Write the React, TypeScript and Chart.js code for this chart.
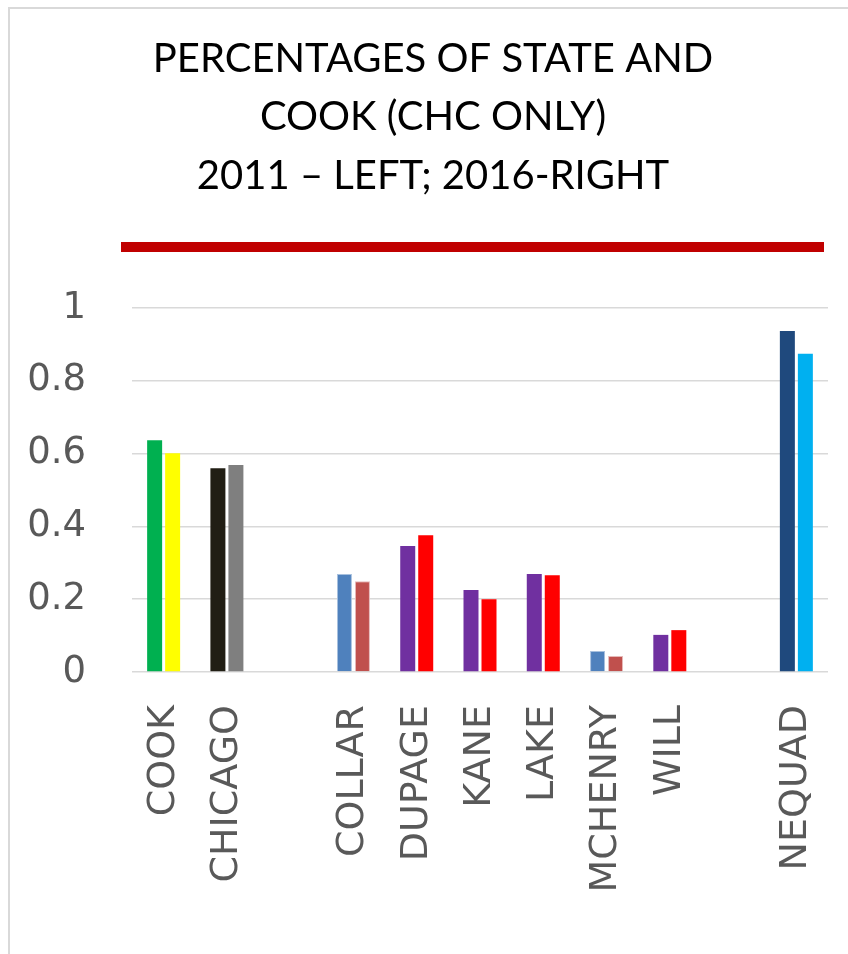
import React, { useEffect, useRef } from 'react';
import { Chart, registerables } from 'chart.js';

Chart.register(...registerables);

const TITLE_LINES = ['PERCENTAGES OF STATE AND', 'COOK (CHC ONLY)', '2011 – LEFT; 2016-RIGHT'];
const CATEGORIES = ['COOK', 'CHICAGO', '', 'COLLAR', 'DUPAGE', 'KANE', 'LAKE', 'MCHENRY', 'WILL', '', 'NEQUAD'];
const VALUES_2011 = [0.637, 0.56, null, 0.269, 0.346, 0.225, 0.269, 0.058, 0.102, null, 0.937];
const VALUES_2016 = [0.601, 0.569, null, 0.249, 0.376, 0.2, 0.266, 0.044, 0.115, null, 0.874];
const COLORS_2011 = ['#00B050', '#211E14', 'transparent', '#4F81BD', '#7030A0', '#7030A0', '#7030A0', '#4F81BD', '#7030A0', 'transparent', '#1F497D'];
const COLORS_2016 = ['#FFFF00', '#7F7F7F', 'transparent', '#C0504D', '#FF0000', '#FF0000', '#FF0000', '#C0504D', '#FF0000', 'transparent', '#00B0F0'];
const OUTLINES_2011 = ['transparent', 'transparent', 'transparent', '#A7C0DE', 'transparent', 'transparent', 'transparent', '#A7C0DE', 'transparent', 'transparent', 'transparent'];
const OUTLINES_2016 = ['transparent', 'transparent', 'transparent', '#E6B9B8', 'transparent', 'transparent', 'transparent', '#E6B9B8', 'transparent', 'transparent', 'transparent'];
const OUTLINE_WIDTHS = [0, 0, 0, 1, 0, 0, 0, 1, 0, 0, 0];
const Y_TICKS = [0, 0.2, 0.4, 0.6, 0.8, 1];
const Y_TICK_LABELS = ['0', '0.2', '0.4', '0.6', '0.8', '1'];

const W = 838;
const H = 945;

const redRulePlugin = {
  id: 'redRule',
  afterLayout(chart: any) {
    // center the title block like the original slide (offset from the canvas centre)
    if (chart.titleBlock) {
      chart.titleBlock.left = 28;
    }
  },
  afterDraw(chart: any) {
    const { ctx, chartArea } = chart;
    ctx.save();
    ctx.fillStyle = '#C00000';
    ctx.fillRect(chartArea.left - 11, chartArea.top - 66, chartArea.right - chartArea.left + 7, 10);
    ctx.restore();
  },
};

export default function App() {
  const ref = useRef<HTMLCanvasElement | null>(null);

  useEffect(() => {
    if (!ref.current) return;
    const chart = new Chart(ref.current, {
      type: 'bar',
      data: {
        labels: CATEGORIES,
        datasets: [
          {
            label: '2011',
            data: VALUES_2011 as any,
            backgroundColor: COLORS_2011,
            borderColor: OUTLINES_2011,
            borderWidth: OUTLINE_WIDTHS,
          },
          {
            label: '2016',
            data: VALUES_2016 as any,
            backgroundColor: COLORS_2016,
            borderColor: OUTLINES_2016,
            borderWidth: OUTLINE_WIDTHS,
          },
        ],
      },
      options: {
        responsive: false,
        animation: false,
        devicePixelRatio: 1,
        layout: { padding: { left: 0, right: 20, top: 0, bottom: 0 } },
        datasets: { bar: { categoryPercentage: 0.569, barPercentage: 0.833 } },
        plugins: {
          legend: { display: false },
          tooltip: { enabled: false },
          title: {
            display: true,
            text: TITLE_LINES,
            color: '#000000',
            font: { family: 'Lato', size: 40, weight: 'normal', lineHeight: 1.4625 },
            padding: { top: 20.75, bottom: 102.75 },
          },
        },
        scales: {
          x: {
            grid: { display: false, drawTicks: false },
            border: { display: false },
            ticks: {
              autoSkip: false,
              minRotation: 90,
              maxRotation: 90,
              padding: 33,
              color: '#595959',
              font: { family: 'DejaVu Sans', size: 38 },
            },
            afterFit(scale: any) {
              scale.height = 282;
              scale.paddingLeft = 0;
              scale.paddingRight = 0;
            },
          },
          y: {
            min: 0,
            max: 1,
            grid: { color: '#D9D9D9', lineWidth: 1.5, drawTicks: false },
            border: { display: false },
            ticks: {
              stepSize: 0.2,
              padding: 46,
              crossAlign: 'near',
              color: '#595959',
              font: { family: 'DejaVu Sans', size: 37 },
              callback: (value: any) => {
                const i = Y_TICKS.findIndex((t) => Math.abs(t - Number(value)) < 1e-6);
                return i >= 0 ? Y_TICK_LABELS[i] : '';
              },
            },
            afterFit(scale: any) {
              scale.width = 122;
            },
          },
        },
      },
      plugins: [redRulePlugin],
    });
    return () => chart.destroy();
  }, []);

  return (
    <div
      style={{
        position: 'fixed',
        left: 8,
        top: 7,
        width: 840,
        height: 947,
        boxSizing: 'border-box',
        borderTop: '2px solid #D9D9D9',
        borderLeft: '2px solid #D9D9D9',
        background: '#FFFFFF',
      }}
    >
      <canvas ref={ref} width={W} height={H} style={{ position: 'absolute', left: 0, top: 0, width: W, height: H }} />
    </div>
  );
}
